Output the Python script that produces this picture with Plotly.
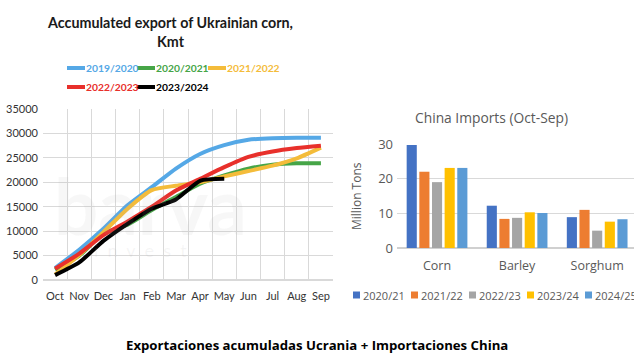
import plotly.graph_objects as go

W, H = 634, 362
def px(x): return x / W
def py(y): return 1 - y / H

# ---------- Data: Ukrainian corn accumulated exports (Kmt) ----------
months = ["Oct", "Nov", "Dec", "Jan", "Feb", "Mar", "Apr", "May", "Jun", "Jul", "Aug", "Sep"]
s2019_2020 = [2450, 6200, 10500, 15300, 19000, 22800, 25800, 27600, 28700, 29000, 29100, 29100]
s2020_2021 = [2100, 5000, 9500, 11300, 14300, 17000, 19700, 21400, 22800, 23600, 23900, 23900]
s2021_2022 = [1100, 5100, 9800, 14600, 18400, 19300, 20000, 21200, 22300, 23400, 24900, 27100]
s2022_2023 = [2300, 5400, 9200, 12000, 15000, 18300, 20700, 23100, 25200, 26300, 27000, 27500]
s2023_2024 = [1000, 3600, 8000, 11500, 14600, 16500, 20300, 20700]
corn_names = ["2019/2020", "2020/2021", "2021/2022", "2022/2023", "2023/2024"]
corn_colors = ["#55A8E6", "#46A547", "#F4BC3A", "#E8302B", "#000000"]

# ---------- Data: China imports (million tons) ----------
crops = ["Corn", "Barley", "Sorghum"]
imp_2020_21 = [29.7, 12.2, 8.9]
imp_2021_22 = [22.0, 8.4, 11.0]
imp_2022_23 = [19.0, 8.7, 5.0]
imp_2023_24 = [23.1, 10.3, 7.6]
imp_2024_25 = [23.1, 10.1, 8.3]
imp_names = ["2020/21", "2021/22", "2022/23", "2023/24", "2024/25"]
imp_colors = ["#4472C4", "#ED7D31", "#A5A5A5", "#FFC000", "#5B9BD5"]

fig = go.Figure()

corn_series = [s2019_2020, s2020_2021, s2021_2022, s2022_2023, s2023_2024]
for i, vals in enumerate(corn_series):
    fig.add_trace(go.Scatter(
        x=months[:len(vals)], y=vals, mode="lines", name=corn_names[i],
        line=dict(color=corn_colors[i], width=4, shape="spline", smoothing=0.6),
        xaxis="x", yaxis="y", showlegend=False))

imp_series = [imp_2020_21, imp_2021_22, imp_2022_23, imp_2023_24, imp_2024_25]
for i, vals in enumerate(imp_series):
    fig.add_trace(go.Bar(
        x=crops, y=vals, name=imp_names[i], marker=dict(color=imp_colors[i], line=dict(width=0)),
        xaxis="x2", yaxis="y2", showlegend=False))

grid = "#D9D9D9"
left_font = dict(family="Lato, DejaVu Sans, sans-serif", size=11, color="#333333")
right_tick = dict(family="Open Sans, sans-serif", size=12.5, color="#595959")

fig.update_layout(
    width=W, height=H, margin=dict(l=0, r=0, t=0, b=0, autoexpand=False),
    paper_bgcolor="white", plot_bgcolor="white",
    barmode="group", bargap=0.21, bargroupgap=0.2,
    xaxis=dict(domain=[px(43), px(333)], anchor="y", type="category",
               categoryorder="array", categoryarray=months,
               range=[-0.5, 11.5], tickson="boundaries", ticks="", tickangle=0,
               showgrid=True, gridcolor=grid, gridwidth=1, showline=False,
               tickfont=left_font, zeroline=False, automargin=False,
               ticklabelstandoff=8),
    yaxis=dict(domain=[py(280), py(109)], anchor="x", range=[0, 35000],
               dtick=5000, showgrid=True, gridcolor=grid, gridwidth=1,
               tickfont=left_font, zeroline=True, zerolinecolor=grid,
               showline=False, ticks="", tickformat="d", automargin=False,
               ticklabelstandoff=4),
    xaxis2=dict(domain=[px(397), 1.0], anchor="y2", type="category",
                range=[-0.5, 2.46], showgrid=False, showline=False, ticks="", tickangle=0,
                tickfont=right_tick, automargin=False, ticklabelstandoff=8),
    yaxis2=dict(domain=[py(248), py(144)], anchor="x2", range=[0, 30],
                dtick=10, showgrid=True, gridcolor=grid, gridwidth=1,
                zeroline=True, zerolinecolor="#D0D0D0", showline=False, ticks="",
                tickfont=dict(family="Open Sans, sans-serif", size=13, color="#595959"),
                automargin=False, ticklabelstandoff=3),
)

annotations = []
shapes = []

# watermark
annotations.append(dict(x=px(150), y=py(205), xref="paper", yref="paper", text="<b>barva</b>",
                        xanchor="center", yanchor="middle",
                        showarrow=False, font=dict(family="Lato, sans-serif", size=78, color="rgba(170,170,170,0.09)")))
annotations.append(dict(x=px(140), y=py(250), xref="paper", yref="paper", text="i  n  v  e  s  t",
                        xanchor="center", yanchor="middle",
                        showarrow=False, font=dict(family="Lato, sans-serif", size=18, color="rgba(170,170,170,0.12)")))

# left title
annotations.append(dict(x=px(170), y=py(32), xref="paper", yref="paper",
                        xanchor="center", yanchor="middle",
                        text="<b>Accumulated export of Ukrainian corn,<br>Kmt</b>", showarrow=False,
                        font=dict(family="Lato, DejaVu Sans, sans-serif", size=14.3, color="#1a1a1a"),
                        align="center"))

# left legend (custom, coloured text)
leg_rows = [(68, [(0, 67), (1, 137), (2, 208)]), (87, [(3, 67), (4, 137)])]
for yrow, items in leg_rows:
    for idx, x0 in items:
        shapes.append(dict(type="line", xref="paper", yref="paper",
                           x0=px(x0), x1=px(x0 + 18), y0=py(yrow), y1=py(yrow),
                           line=dict(color=corn_colors[idx], width=4)))
        annotations.append(dict(x=px(x0 + 17), y=py(yrow), xref="paper", yref="paper",
                                xanchor="left", yanchor="middle", showarrow=False,
                                text="<b>" + corn_names[idx] + "</b>",
                                font=dict(family="Lato, DejaVu Sans, sans-serif", size=10.3,
                                          color=corn_colors[idx])))

# right title
annotations.append(dict(x=px(492), y=py(118), xref="paper", yref="paper",
                        xanchor="center", yanchor="middle",
                        text="China Imports (Oct-Sep)", showarrow=False,
                        font=dict(family="Open Sans, sans-serif", size=13.8, color="#595959")))

# right y-axis title
annotations.append(dict(x=px(357), y=py(196), xref="paper", yref="paper",
                        xanchor="center", yanchor="middle", textangle=-90,
                        text="Million Tons", showarrow=False,
                        font=dict(family="Open Sans, sans-serif", size=12, color="#595959")))

# right legend (custom)
for i, name in enumerate(imp_names):
    x0 = 353 + i * 58
    shapes.append(dict(type="rect", xref="paper", yref="paper",
                       x0=px(x0), x1=px(x0 + 7), y0=py(298.5), y1=py(291.5),
                       fillcolor=imp_colors[i], line=dict(width=0)))
    annotations.append(dict(x=px(x0 + 8), y=py(295), xref="paper", yref="paper",
                            xanchor="left", yanchor="middle", showarrow=False, text=name,
                            font=dict(family="Open Sans, sans-serif", size=11, color="#595959")))

# caption
annotations.append(dict(x=0.5, y=py(345), xref="paper", yref="paper",
                        xanchor="center", yanchor="middle",
                        text="<b>Exportaciones acumuladas Ucrania + Importaciones China</b>",
                        showarrow=False,
                        font=dict(family="Open Sans, sans-serif", size=13.2, color="#000000")))

fig.update_layout(annotations=annotations, shapes=shapes)
fig.write_html("out.html", config={"displayModeBar": False},
               post_script="document.body.style.margin='0';")
